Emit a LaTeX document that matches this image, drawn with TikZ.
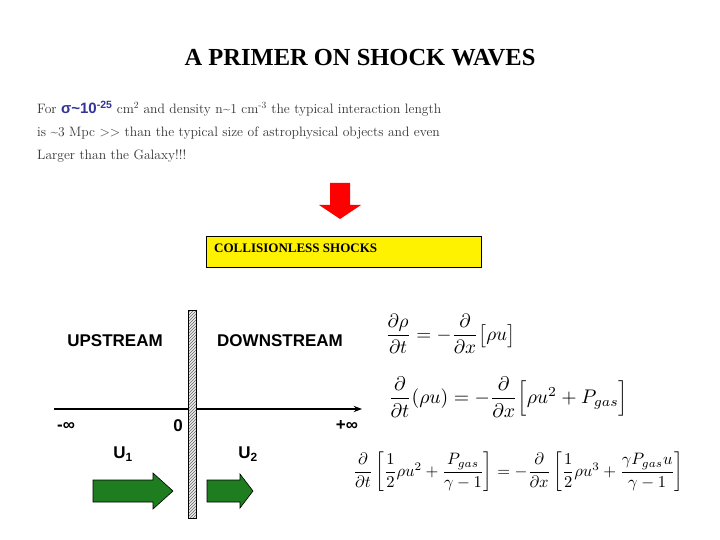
\documentclass[tikz,border=0pt]{standalone}
\usepackage{amsmath}
\usepackage{graphicx}
\usepackage{fontspec}
\usetikzlibrary{arrows.meta,positioning,patterns}
\newfontfamily\titlefont{Liberation Serif}
\newfontfamily\labelfont{Liberation Sans}
\definecolor{sigblue}{RGB}{51,51,153}
\definecolor{flowgreen}{RGB}{30,125,30}
\tikzset{
  >=Stealth,
  txt/.style={anchor=base west, inner sep=0pt, text=black!80, font=\fontsize{13.6}{16}\selectfont},
  side/.style={font=\labelfont\bfseries\fontsize{17}{20}\selectfont, inner sep=0pt},
  eqn/.style={anchor=west, inner sep=0pt},
  flow/.style={draw=black, fill=flowgreen, line width=0.6pt},
  shockbox/.style={rectangle, draw, fill=yellow, minimum width=275pt, minimum height=31pt, anchor=north west, inner sep=0pt}
}

\begin{document}
\begin{tikzpicture}[x=1pt, y=-1pt]
  \useasboundingbox (0,0) rectangle (720,540);

  \node[anchor=base, inner sep=0pt, font=\titlefont\bfseries\fontsize{24.5}{28}\selectfont] (title) at (360,66) {A PRIMER ON SHOCK WAVES};

  \node[txt] (line1) at (37,114) {For {\labelfont\bfseries\fontsize{15}{18}\selectfont\color{sigblue}σ\textasciitilde10\textsuperscript{-25}} cm\textsuperscript{2} and density n\textasciitilde1 cm\textsuperscript{-3} the typical interaction length};
  \node[txt] (line2) at (37,137) {is \textasciitilde3 Mpc >{}> than the typical size of astrophysical objects and even};
  \node[txt] (line3) at (37,160) {Larger than the Galaxy!!!};

  % red arrow
  \fill[red] (330,183) -- (350,183) -- (350,205) -- (361,205) -- (340,219) -- (319,205) -- (330,205) -- cycle;

  \node[shockbox] (shocks) at (206,236) {};
  \node[anchor=base west, inner sep=0pt, font=\titlefont\bfseries\fontsize{13}{15}\selectfont] (shocklbl) at (214,252) {COLLISIONLESS SHOCKS};

  % shock front and axis
  \draw[->, line width=1.2pt] (54,409) -- (362,409);
  \filldraw[fill=gray!15, draw=black] (188,310) rectangle (196,518);
  \fill[pattern=north east lines, pattern color=gray!80!black] (188,310) rectangle (196,518);
  \draw (188,310) rectangle (196,518);

  \node[side] (up) at (115,341) {UPSTREAM};
  \node[side] (down) at (280,341) {DOWNSTREAM};
  \node[side] (minf) at (66,426) {-∞};
  \node[side] (zero) at (178,426) {0};
  \node[side] (pinf) at (347,426) {+∞};
  \node[side] (u1) at (123,454) {U\textsubscript{1}};
  \node[side] (u2) at (248,454) {U\textsubscript{2}};

  \filldraw[flow] (93,480) -- (153,480) -- (153,473) -- (173,491) -- (153,509) -- (153,502) -- (93,502) -- cycle;
  \filldraw[flow] (207,480) -- (240,480) -- (240,474) -- (253,491) -- (240,508) -- (240,502) -- (207,502) -- cycle;

  % fluid equations
  \node[eqn] (mass) at (385,334) {\resizebox{130pt}{!}{$\dfrac{\partial\rho}{\partial t}=-\dfrac{\partial}{\partial x}\bigl[\rho u\bigr]$}};
  \node[eqn] (momentum) at (388,397) {\resizebox{240pt}{!}{$\dfrac{\partial}{\partial t}(\rho u)=-\dfrac{\partial}{\partial x}\Bigl[\rho u^{2}+P_{gas}\Bigr]$}};
  \node[eqn] (energy) at (353,472) {\resizebox{330pt}{!}{$\dfrac{\partial}{\partial t}\left[\dfrac{1}{2}\rho u^{2}+\dfrac{P_{gas}}{\gamma-1}\right]=-\dfrac{\partial}{\partial x}\left[\dfrac{1}{2}\rho u^{3}+\dfrac{\gamma P_{gas}u}{\gamma-1}\right]$}};
\end{tikzpicture}
\end{document}
